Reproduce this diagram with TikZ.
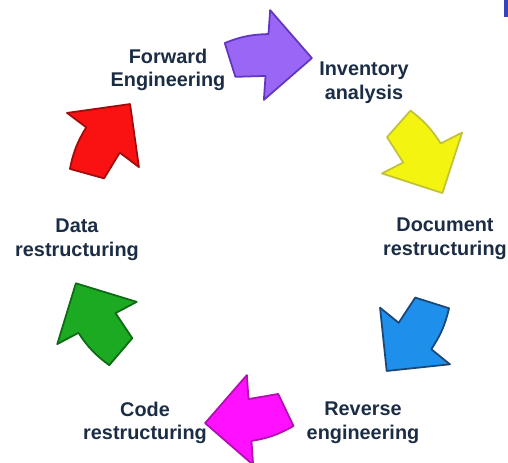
\documentclass[tikz,border=0pt]{standalone}
\usepackage{fontspec}
\setmainfont{Liberation Sans}
\usepackage{xcolor}
\usepackage{tikz}
\usetikzlibrary{arrows.meta}

\definecolor{labelnavy}{HTML}{1B2D45}
\definecolor{fwdfill}{HTML}{9966F5}
\definecolor{fwdline}{HTML}{6236C0}
\definecolor{invfill}{HTML}{F4F411}
\definecolor{invline}{HTML}{C2C23A}
\definecolor{docfill}{HTML}{1E8FEA}
\definecolor{docline}{HTML}{1B4778}
\definecolor{revfill}{HTML}{FF10FF}
\definecolor{revline}{HTML}{B010B0}
\definecolor{codefill}{HTML}{1BAA22}
\definecolor{codeline}{HTML}{0E6A14}
\definecolor{datafill}{HTML}{FA1111}
\definecolor{dataline}{HTML}{A00C0C}
\definecolor{cornerblue}{HTML}{3444BE}

\tikzset{
  cyclearrow/.pic={
    \path[pic actions] (45,0) -- (0,45) -- (0,21) to[bend right=10] (-43,9)
      -- (-30,-24) -- (0,-21) -- (0,-45) -- cycle;
  },
  stagelabel/.style={text=labelnavy, align=center,
    font=\fontsize{11.3}{13.5}\selectfont\bfseries},
  blockarrow/.style={line width=1pt, line join=round}
}

\begin{document}
\begin{tikzpicture}[x=0.02cm, y=0.02cm]
                    \useasboundingbox (0,0) rectangle (508,463);
                    \fill[cornerblue] (504,446) rectangle (508,463);

                    \node[stagelabel] (fwd) at (168,393) {Forward\\Engineering};
                    \node[stagelabel] (inv) at (364,380) {Inventory\\analysis};
                    \node[stagelabel] (doc) at (445,224) {Document\\restructuring};
                    \node[stagelabel] (rev) at (363,40) {Reverse\\engineering};
                    \node[stagelabel] (code) at (145,40) {Code\\restructuring};
                    \node[stagelabel] (data) at (77,223) {Data\\restructuring};

                    \pic[blockarrow, fill=fwdfill, draw=fwdline, rotate=-4] at (267,408) {cyclearrow};
                    \pic[blockarrow, fill=invfill, draw=invline, rotate=-63] at (422,310) {cyclearrow};
                    \pic[blockarrow, fill=docfill, draw=docline, rotate=-129] at (415,127) {cyclearrow};
                    \pic[blockarrow, fill=revfill, draw=revline, rotate=184] at (250,43) {cyclearrow};
                    \pic[blockarrow, fill=codefill, draw=codeline, rotate=118] at (97,140) {cyclearrow};
                    \pic[blockarrow, fill=datafill, draw=dataline, rotate=53] at (103,323) {cyclearrow};

            \end{tikzpicture}
\end{document}
